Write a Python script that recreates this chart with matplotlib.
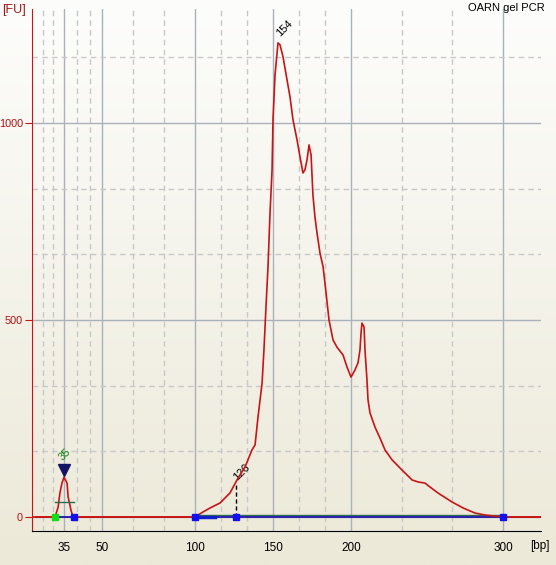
import numpy as np
import matplotlib
matplotlib.use('Agg')
from matplotlib import pyplot as plt
from matplotlib.colors import LinearSegmentedColormap

plt.rcParams['font.family'] = ['Liberation Sans', 'DejaVu Sans']

# ladder: bp size vs migration position (defines the nonlinear x axis)
ladder_bp = [22.5, 35, 50, 100, 150, 200, 300, 325]
ladder_pos = [32, 64, 102.5, 195, 273, 351, 503, 541]
tick_bp = [35, 50, 100, 150, 200, 300]

# electropherogram trace (bp, FU)
bp = [24, 31.5, 32.7, 33.4, 34.2, 35, 36.2, 36.6, 37.7, 38.5, 40,
      100, 105.1, 109.6, 116.0, 122.4, 127.6, 132.1, 136.5, 138.5, 140.4,
      143.0, 144.2, 145.5, 146.8, 148.1, 149.4, 150, 151.3, 153.2, 154.5,
      156.4, 159.0, 160.9, 162.8, 165.4, 167.3, 169.2, 170.5, 171.8, 173.1,
      174.4, 175.6, 176.9, 178.2, 180.1, 182.1, 184.0, 185.9, 188.5, 191.0,
      194.9, 197.4, 200, 202.6, 204.6, 205.9, 206.6, 207.2, 208.6, 209.2,
      210.5, 211.2, 212.5, 215.8, 219.1, 222.4, 227.0, 233.6, 240.2, 244.1,
      248.7, 252.0, 257.2, 266.5, 273.7, 281.6, 288.2, 300, 325]
fu = [0, 0, 25, 61, 86, 101, 86, 51, 18, 0, 0,
      0, 12.7, 22.8, 35.5, 60.9, 99, 127, 170, 183, 254,
      340, 424, 533, 635, 772, 881, 1008, 1122, 1203, 1198,
      1168, 1109, 1066, 1008, 957, 914, 873, 881, 906, 944,
      919, 817, 761, 721, 670, 635, 569, 500, 449, 431,
      411, 381, 355, 373, 391, 424, 467, 492, 482, 424,
      348, 297, 264, 228, 200, 170, 145, 119, 94, 89,
      86, 76, 61, 38, 23, 10, 5, 0, 0]

# marker peak (35 bp) and region (100-300 bp)
marker_start, marker_end, marker_level = 31.5, 38.9, 38
marker_top = 120
region_start, region_end, region_level = 100, 300, 5
smear_peak, smear_peak_fu = 126, 81
main_peak, main_peak_fu = 153.5, 1205

red = '#C81414'


def forward(x):
    return np.interp(x, ladder_bp, ladder_pos)


def inverse(p):
    return np.interp(p, ladder_pos, ladder_bp)


W, H = 556, 565
fig = plt.figure(figsize=(W / 100, H / 100), dpi=100)

bg = fig.add_axes([0, 0, 1, 1])
grad = np.linspace(0, 1, 256).reshape(-1, 1)
cmap = LinearSegmentedColormap.from_list('bg', ['#FDFDFC', '#ECE9D8'])
bg.imshow(grad, aspect='auto', cmap=cmap, extent=[0, 1, 0, 1])
bg.axis('off')

ax = fig.add_axes([32 / W, 1 - 531 / H, (541 - 32) / W, (531 - 9) / H])
ax.set_facecolor('none')
ax.set_xscale('function', functions=(forward, inverse))
ax.set_xlim(22.5, 325)
ax.set_ylim(-35.5, 1289)

# grid: major at ladder, minor at thirds
minor_pos = []
for a, b in zip(ladder_pos[:-2], ladder_pos[1:-1]):
    minor_pos += [a + (b - a) / 3, a + 2 * (b - a) / 3]
ax.set_xticks(tick_bp)
ax.set_xticklabels([str(t) for t in tick_bp])
ax.set_xticks(inverse(np.array(minor_pos)), minor=True)
ax.set_yticks([0, 500, 1000])
ax.set_yticks([500 / 3 * k for k in [1, 2, 4, 5, 7]], minor=True)
ax.grid(which='major', color='#A9B1BD', lw=1)
ax.grid(which='minor', color='#C8C8C8', lw=1, ls=(0, (4, 3)))
ax.set_axisbelow(True)

for s in ['top', 'right']:
    ax.spines[s].set_visible(False)
ax.spines['left'].set_color(red)
ax.spines['bottom'].set_color('black')
ax.tick_params(axis='x', which='both', length=0, pad=8, labelsize=8.5)
ax.tick_params(axis='x', which='minor', labelbottom=False)
ax.tick_params(axis='y', which='major', length=5, color=red, pad=1.5,
               labelsize=7.8, labelcolor='#B01010')
ax.tick_params(axis='y', which='minor', length=0)

ax.axhline(0, color=red, lw=1.2, zorder=2)

# region baseline and borders
ax.plot([region_start, region_end], [region_level, region_level],
        color='#2F6B4A', lw=1, zorder=3)
ax.plot([region_start, region_end], [0, 0], color='#1020C8', lw=1.2, zorder=3)
ax.plot([region_start, 113], [0, 0], color='#1020C8', lw=2.5, zorder=3)

ax.plot(bp, fu, color=red, lw=1.2, zorder=4)

# marker peak
ax.plot([marker_start, marker_end], [marker_level, marker_level],
        color='#2F6B4A', lw=1, zorder=5)
ax.plot([marker_start, marker_end], [0, 0], color='#1020C8', lw=1.2, zorder=3)
ax.plot([marker_start], [0], 's', color='#10E010', ms=4, zorder=6)
ax.plot([marker_end], [0], 's', color='#1010F0', ms=4, zorder=6)
ax.plot([35], [marker_top], 'v', color='#141464', ms=8, zorder=6)
ax.annotate('35', (35, marker_top), xytext=(0, 5), textcoords='offset points',
            rotation=45, rotation_mode='anchor', ha='left', va='bottom',
            color='#108010', fontsize=8)

# region markers and peaks
ax.plot([region_start, smear_peak, region_end], [0, 0, 0], 's',
        color='#1010F0', ms=4, zorder=6)
ax.plot([smear_peak, smear_peak], [0, smear_peak_fu], color='black',
        lw=1, ls=(0, (3, 2)), zorder=5)
ax.annotate(str(smear_peak), (smear_peak, smear_peak_fu), xytext=(2, 2),
            textcoords='offset points', rotation=45, rotation_mode='anchor',
            ha='left', va='bottom', fontsize=8)
ax.annotate('154', (main_peak, main_peak_fu), xytext=(2, 3),
            textcoords='offset points', rotation=45, rotation_mode='anchor',
            ha='left', va='bottom', fontsize=8)

fig.text(2 / W, 1 - 10 / H, '[FU]', color='#A01818', fontsize=9,
         ha='left', va='center')
fig.text(530 / W, 1 - 546 / H, '[bp]', fontsize=8.5, ha='left', va='center')
fig.text(468 / W, 1 - 8 / H, 'OARN gel PCR', fontsize=8, ha='left',
         va='center')

fig.savefig('out.png', dpi=100)
